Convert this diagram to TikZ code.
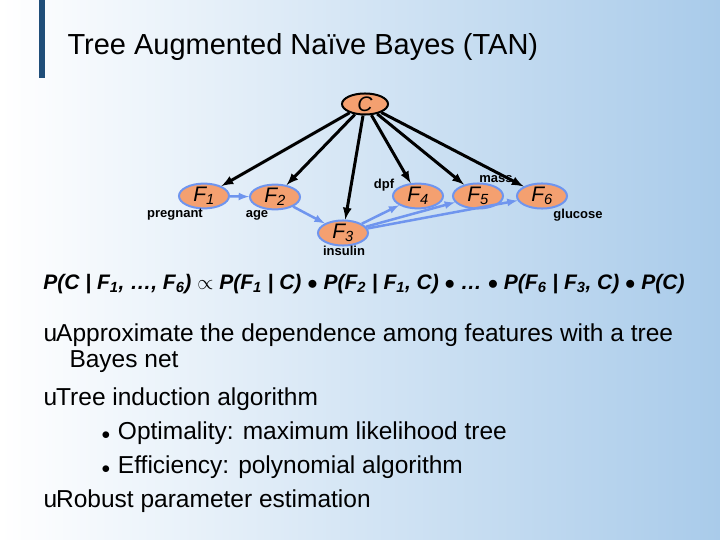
\documentclass[tikz,border=0pt]{standalone}
\usepackage{fontspec}
\setmainfont{Liberation Sans}
\usepackage{xcolor}
\definecolor{bar-blue}{HTML}{1F4E79}
\definecolor{sky-blue}{HTML}{A9CBEA}
\definecolor{node-orange}{HTML}{F4A070}
\definecolor{edge-blue}{HTML}{6F95EE}
\usetikzlibrary{shapes.geometric}
\tikzset{feat/.style = {draw=edge-blue, line width=2pt, ellipse, fill=node-orange, inner sep=0pt, minimum width=50pt, minimum height=24pt, font=\itshape\fontsize{21}{21}\selectfont}}
\tikzset{cls/.style = {draw, line width=2pt, ellipse, fill=node-orange, inner sep=0pt, minimum width=46pt, minimum height=20pt, font=\itshape\fontsize{21}{21}\selectfont}}
\tikzset{arr/.style = {line width=3pt, -latex}}
\tikzset{tree/.style = {line width=2.5pt, draw=edge-blue, -latex}}
\tikzset{lbl/.style = {font=\bfseries\fontsize{13}{13}\selectfont}}
\tikzset{item/.style = {anchor=west, font=\fontsize{24.5}{24.5}\selectfont}}

\begin{document}
\begin{tikzpicture}[x=1pt, y=-1pt]
\useasboundingbox (0,0) rectangle (720,540);
\shade[left color=white, right color=sky-blue] (0,0) rectangle (720,540);
\fill[bar-blue] (39,0) rectangle (45,78);
\node[anchor=west, font=\fontsize{29}{29}\selectfont] (title) at (64,47) {Tree Augmented Naïve Bayes (TAN)};

\node[cls] (c) at (365,104) {C};
\node[feat] (f1) at (204,196) {F\textsubscript{1}};
\node[feat] (f2) at (275,197) {F\textsubscript{2}};
\node[feat] (f3) at (343,233) {F\textsubscript{3}};
\node[feat] (f4) at (418,196) {F\textsubscript{4}};
\node[feat] (f5) at (478,196) {F\textsubscript{5}};
\node[feat] (f6) at (542,196) {F\textsubscript{6}};

\node[lbl] (l1) at (175,215) {pregnant};
\node[lbl] (l2) at (257,215) {age};
\node[lbl] (l3) at (344,251) {insulin};
\node[lbl] (l4) at (384,185) {dpf};
\node[lbl] (l5) at (496,179) {mass};
\node[lbl] (l6) at (578,215) {glucose};

\foreach \f in {f1,f2,f3,f4,f5,f6}
  \draw[arr] (c) -- (\f);
\draw[tree] (f1) -- (f2);
\draw[tree] (f2) -- (f3);
\draw[tree] (f3) -- (f4);
\draw[tree] (f3) -- (f5);
\draw[tree] (f3) -- (f6);

\node[font=\itshape\bfseries\fontsize{21}{21}\selectfont] (eq) at (364,284)
  {P(C | F\textsubscript{1}, \ldots, F\textsubscript{6}) $\propto$ P(F\textsubscript{1} | C) $\bullet$ P(F\textsubscript{2} | F\textsubscript{1}, C) $\bullet$ \ldots{} $\bullet$ P(F\textsubscript{6} | F\textsubscript{3}, C) $\bullet$ P(C)};

\node[item] (i1) at (40,335) {u\hspace{-1pt}Approximate the dependence among features with a tree};
\node[item] (i1b) at (66,362) {Bayes net};
\node[item] (i2) at (40,399) {u\hspace{-1pt}Tree induction algorithm};
\node[item] (i3) at (98,433) {{\fontsize{16}{16}\selectfont$\bullet$}\hspace{1pt} Optimality: maximum likelihood tree};
\node[item] (i4) at (98,467) {{\fontsize{16}{16}\selectfont$\bullet$}\hspace{1pt} Efficiency: polynomial algorithm};
\node[item] (i5) at (40,501) {u\hspace{-1pt}Robust parameter estimation};
\end{tikzpicture}
\end{document}
